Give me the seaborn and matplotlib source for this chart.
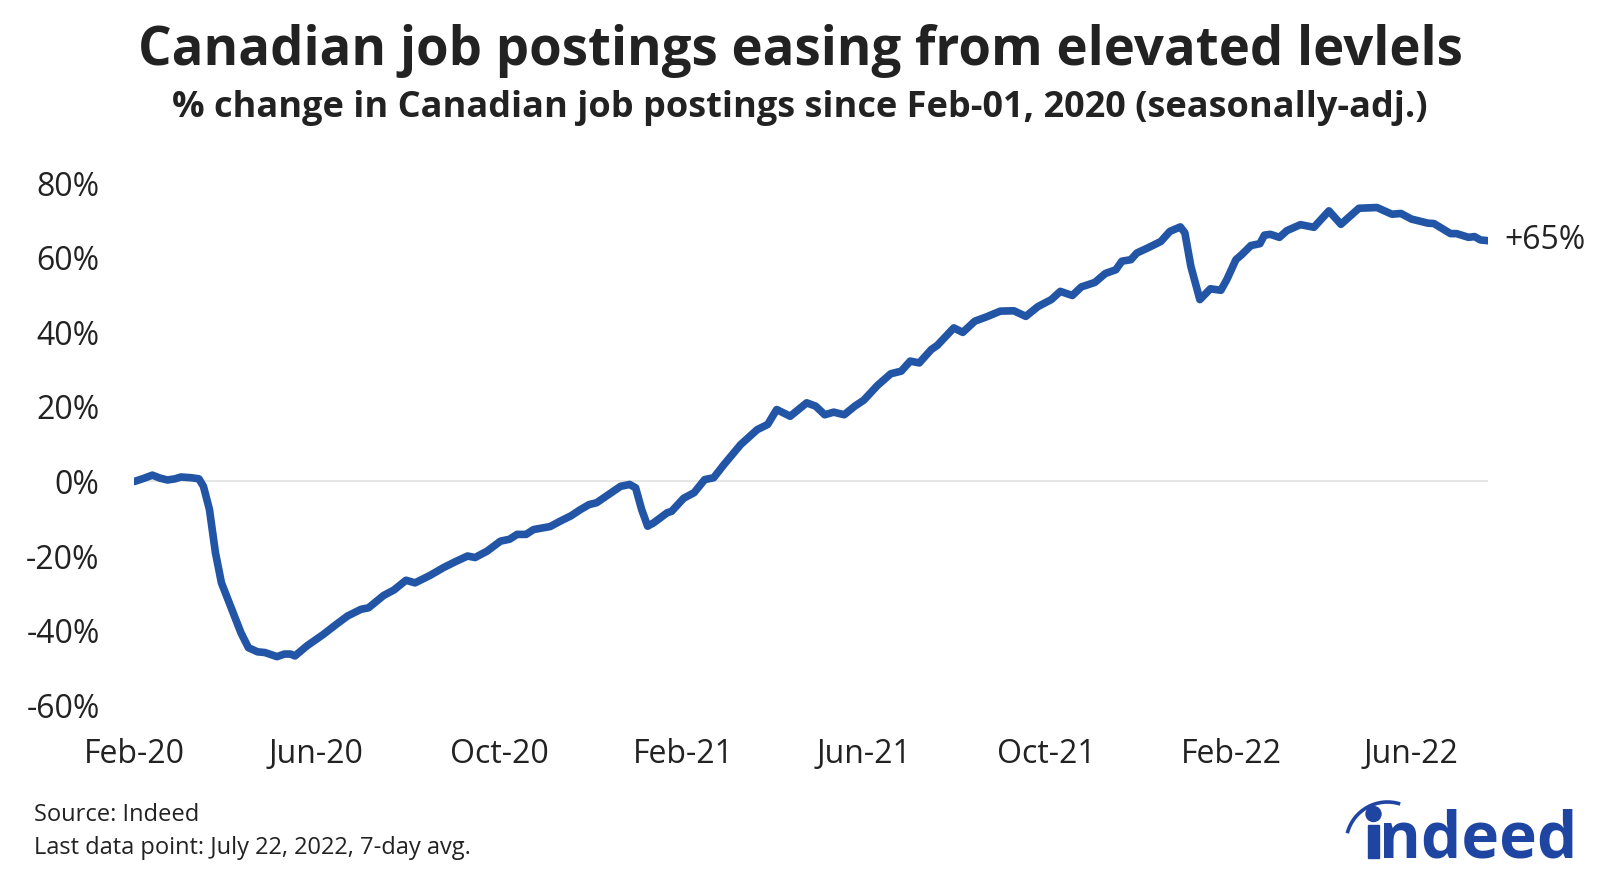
import pandas as pd
import seaborn as sns
import matplotlib.pyplot as plt
import matplotlib.dates as mdates
from matplotlib.patches import Arc, Ellipse, Rectangle

# values
# days after Feb-01 2020, and % change in postings
DAYS = [0, 6, 12, 17, 22, 27, 31, 38, 43, 46, 50, 54, 58, 64, 71, 76, 82, 87, 92, 95,
        100, 104, 107, 115, 126, 134, 142, 151, 156, 166, 173, 181, 187, 197, 206, 214,
        222, 227, 235, 244, 250, 255, 261, 266, 277, 284, 291, 297, 303, 308, 316, 324,
        330, 334, 338, 342, 346, 355, 358, 366, 373, 380, 386, 393, 404, 415, 422, 428,
        437, 448, 454, 460, 466, 473, 480, 486, 495, 504, 511, 517, 523, 531, 535, 546,
        552, 560, 568, 577, 586, 594, 602, 611, 617, 625, 631, 640, 647, 654, 658, 664,
        668, 675, 684, 690, 697, 700, 704, 710, 717, 724, 728, 734, 738, 744, 750, 753,
        757, 763, 768, 777, 786, 796, 804, 816, 828, 838, 844, 851, 862, 866, 877, 881,
        889, 893, 897, 902]
CHANGE = [0.0, 0.8, 1.7, 0.9, 0.4, 0.7, 1.2, 1.0, 0.7, -1.3, -7.5, -19.1, -27.2, -33.4,
          -40.6, -44.6, -45.7, -45.9, -46.6, -47.0, -46.3, -46.3, -46.8, -44.1, -41.0,
          -38.5, -36.1, -34.3, -33.9, -30.6, -29.1, -26.5, -27.2, -25.2, -23.1, -21.5,
          -20.0, -20.4, -18.7, -16.0, -15.5, -14.2, -14.2, -12.9, -12.1, -10.6, -9.2,
          -7.6, -6.2, -5.7, -3.5, -1.3, -0.8, -1.7, -7.5, -12.0, -11.1, -8.4, -8.0, -4.5,
          -3.0, 0.5, 1.0, 4.6, 9.9, 13.9, 15.3, 19.3, 17.5, 21.1, 20.2, 17.9, 18.6, 17.9,
          20.2, 21.8, 25.7, 28.9, 29.6, 32.3, 31.8, 35.4, 36.5, 41.2, 40.0, 43.0, 44.2,
          45.7, 45.8, 44.3, 46.9, 48.8, 51.0, 49.9, 52.2, 53.4, 55.8, 56.8, 59.1, 59.5,
          61.3, 62.6, 64.4, 67.1, 68.3, 66.7, 57.7, 48.8, 51.7, 51.3, 54.2, 59.5, 60.9,
          63.3, 63.8, 66.1, 66.3, 65.5, 67.3, 68.9, 68.2, 72.6, 69.0, 73.3, 73.5, 71.7,
          71.9, 70.4, 69.3, 69.2, 66.5, 66.5, 65.5, 65.7, 64.8, 64.6]
START = "2020-02-01"
END_LABEL = "+65%"
Y_TICKS = [-60, -40, -20, 0, 20, 40, 60, 80]

BLUE = "#2255a5"
TEXT = "#222222"
LOGO_BLUE = "#1f45a3"

sns.set_theme(style="white")
plt.rcParams['font.family'] = ['Open Sans', 'DejaVu Sans']

df = pd.DataFrame({
    "date": pd.to_datetime(START) + pd.to_timedelta(DAYS, unit="D"),
    "change": CHANGE,
})

fig = plt.figure(figsize=(16, 8.77), dpi=100)
ax = fig.add_axes([0.084, 0.196, 0.846, 0.595])

ax.axhline(0, color="#e2e2e2", lw=1.2, zorder=1)
sns.lineplot(data=df, x="date", y="change", color=BLUE, lw=5.5, ax=ax, zorder=3,
             solid_joinstyle="round", solid_capstyle="round")

ax.set_xlim(df["date"].iloc[0], df["date"].iloc[-1])
ax.set_ylim(-60, 80)
ax.set_yticks(Y_TICKS)
ax.set_yticklabels([f"{v}%" for v in Y_TICKS])
ax.xaxis.set_major_locator(mdates.MonthLocator(bymonth=[2, 6, 10]))
ax.xaxis.set_major_formatter(mdates.DateFormatter("%b-%y"))
ax.tick_params(axis="both", length=0, labelsize=23, colors=TEXT)
ax.tick_params(axis="y", pad=25)
ax.tick_params(axis="x", pad=24)
ax.set_xlabel("")
ax.set_ylabel("")
for s in ax.spines.values():
    s.set_visible(False)

ax.annotate(END_LABEL, xy=(df["date"].iloc[-1], df["change"].iloc[-1]),
            xytext=(12, 0), textcoords="offset points", va="center", ha="left",
            fontsize=23, color=TEXT)

fig.text(0.5, 0.942, "Canadian job postings easing from elevated levlels",
         ha="center", va="center", fontsize=38, fontweight="bold", color=TEXT)
fig.text(0.5, 0.877, "% change in Canadian job postings since Feb-01, 2020 (seasonally-adj.)",
         ha="center", va="center", fontsize=26, fontweight="bold", color=TEXT)

fig.text(0.021, 0.071, "Source: Indeed", ha="left", va="center", fontsize=17, color=TEXT)
fig.text(0.021, 0.033, "Last data point: July 22, 2022, 7-day avg.", ha="left", va="center",
         fontsize=17, color=TEXT)

# indeed logo: wordmark, stem + dot of the i, and the swoosh above it
fig.text(0.986, 0.022, "ndeed", ha="right", va="baseline", fontsize=46,
         fontweight="bold", color=LOGO_BLUE)
fig.patches.append(Rectangle((1368 / 1600, 1 - 858 / 877), 11 / 1600, 33 / 877,
                             transform=fig.transFigure, color=LOGO_BLUE))
fig.patches.append(Ellipse((1373.5 / 1600, 1 - 814 / 877), 15 / 1600, 15 / 877,
                           transform=fig.transFigure, color=LOGO_BLUE))
fig.patches.append(Arc((1387.5 / 1600, 1 - 843.5 / 877), 83 / 1600, 83 / 877,
                       theta1=80, theta2=155, transform=fig.transFigure,
                       color=LOGO_BLUE, lw=2.6))

plt.savefig("out.png", dpi=100)
plt.close()
